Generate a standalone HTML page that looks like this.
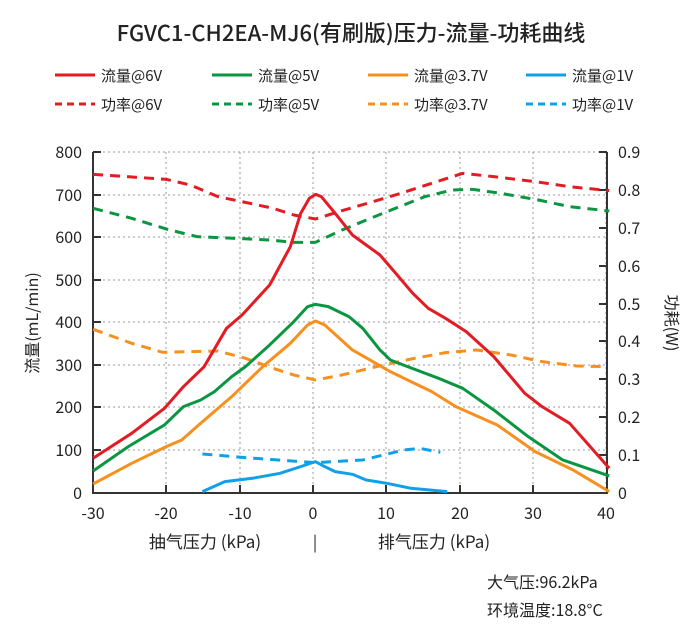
<!DOCTYPE html>
<html><head><meta charset="utf-8"><style>
body{margin:0;background:#fff}
svg{display:block;font-family:"Noto Sans CJK SC","Liberation Sans",sans-serif}
</style></head><body>
<svg width="700" height="637" viewBox="0 0 700 637">
<text x="351" y="41" font-size="22" text-anchor="middle" fill="#222" font-weight="500">FGVC1-CH2EA-MJ6(有刷版)压力-流量-功耗曲线</text>
<g font-size="15" fill="#222" stroke-width="3">
<line x1="55" y1="75" x2="95" y2="75" stroke="#e31b23"/><text x="101" y="81">流量@6V</text>
<line x1="212" y1="75" x2="252" y2="75" stroke="#0a9640"/><text x="258" y="81">流量@5V</text>
<line x1="368" y1="75" x2="408" y2="75" stroke="#f7901e"/><text x="414" y="81">流量@3.7V</text>
<line x1="526" y1="75" x2="566" y2="75" stroke="#10a0e8"/><text x="572" y="81">流量@1V</text>
<line x1="55" y1="104" x2="95" y2="104" stroke="#e31b23" stroke-dasharray="7,5"/><text x="101" y="110">功率@6V</text>
<line x1="212" y1="104" x2="252" y2="104" stroke="#0a9640" stroke-dasharray="7,5"/><text x="258" y="110">功率@5V</text>
<line x1="368" y1="104" x2="408" y2="104" stroke="#f7901e" stroke-dasharray="7,5"/><text x="414" y="110">功率@3.7V</text>
<line x1="526" y1="104" x2="566" y2="104" stroke="#10a0e8" stroke-dasharray="7,5"/><text x="572" y="110">功率@1V</text>
</g>
<g stroke="#999" stroke-width="1" stroke-dasharray="2,3">
<line x1="93" y1="152" x2="606" y2="152"/><line x1="93" y1="195" x2="606" y2="195"/><line x1="93" y1="237" x2="606" y2="237"/><line x1="93" y1="280" x2="606" y2="280"/><line x1="93" y1="322" x2="606" y2="322"/><line x1="93" y1="365" x2="606" y2="365"/><line x1="93" y1="407" x2="606" y2="407"/><line x1="93" y1="450" x2="606" y2="450"/>
<line x1="166" y1="152" x2="166" y2="493"/><line x1="240" y1="152" x2="240" y2="493"/><line x1="313" y1="152" x2="313" y2="493"/><line x1="386" y1="152" x2="386" y2="493"/><line x1="460" y1="152" x2="460" y2="493"/><line x1="533" y1="152" x2="533" y2="493"/><line x1="606" y1="152" x2="606" y2="493"/>
</g>
<g stroke="#333" stroke-width="2" fill="none">
<path d="M93 152V493H607V152"/>
<path d="M93 152h8M93 195h8M93 237h8M93 280h8M93 322h8M93 365h8M93 407h8M93 450h8"/>
<path d="M607 152h-8M607 190h-8M607 228h-8M607 266h-8M607 304h-8M607 341h-8M607 379h-8M607 417h-8M607 455h-8"/>
<path d="M166 493v-8M240 493v-8M313 493v-8M386 493v-8M460 493v-8M533 493v-8"/>
</g>
<g font-size="16" fill="#222" text-anchor="end">
<text x="82" y="158">800</text><text x="82" y="201">700</text><text x="82" y="243">600</text><text x="82" y="286">500</text><text x="82" y="328">400</text><text x="82" y="371">300</text><text x="82" y="413">200</text><text x="82" y="456">100</text><text x="82" y="499">0</text>
</g>
<g font-size="16" fill="#222">
<text x="618" y="158">0.9</text><text x="618" y="196">0.8</text><text x="618" y="234">0.7</text><text x="618" y="272">0.6</text><text x="618" y="310">0.5</text><text x="618" y="347">0.4</text><text x="618" y="385">0.3</text><text x="618" y="423">0.2</text><text x="618" y="461">0.1</text><text x="618" y="499">0</text>
</g>
<g font-size="16" fill="#222" text-anchor="middle">
<text x="93" y="519">-30</text><text x="166" y="519">-20</text><text x="240" y="519">-10</text><text x="313" y="519">0</text><text x="386" y="519">10</text><text x="460" y="519">20</text><text x="533" y="519">30</text><text x="606" y="519">40</text>
<text x="205" y="548" font-size="17">抽气压力 (kPa)</text><text x="315" y="548">|</text><text x="434" y="548" font-size="17">排气压力 (kPa)</text>
</g>
<text transform="translate(38 323) rotate(-90)" font-size="16" fill="#222" text-anchor="middle">流量(mL/min)</text>
<text transform="translate(666 323) rotate(90)" font-size="16" fill="#222" text-anchor="middle">功耗(W)</text>
<text x="487" y="588" font-size="16" fill="#222">大气压:96.2kPa</text>
<text x="487" y="616" font-size="16" fill="#222">环境温度:18.8°C</text>
<g transform="translate(80 140) scale(0.3448 0.3333)" fill="none" stroke-width="3" stroke-linejoin="round">
<path vector-effect="non-scaling-stroke" stroke="#e31b23" stroke-dasharray="10,7" d="M38 103L250 118 320 135 400 170 470 185 560 205 620 225 683 237 750 215 850 185 930 160 1020 130 1110 100 1200 110 1320 125 1420 140 1535 152"/>
<path vector-effect="non-scaling-stroke" stroke="#0a9640" stroke-dasharray="10,7" d="M38 205L150 235 260 270 340 290 450 295 550 300 620 307 683 307 760 270 890 215 1000 170 1080 150 1140 148 1220 160 1330 180 1420 200 1535 213"/>
<path vector-effect="non-scaling-stroke" stroke="#f7901e" stroke-dasharray="10,7" d="M38 568L150 610 240 637 400 633 480 655 560 685 620 705 683 720 760 705 860 680 960 657 1060 638 1150 630 1250 645 1340 665 1440 678 1520 680"/>
<path vector-effect="non-scaling-stroke" stroke="#10a0e8" stroke-dasharray="10,7" d="M355 942L480 953 600 962 683 968 820 960 880 945 940 930 985 925 1045 937"/>
<path vector-effect="non-scaling-stroke" stroke="#e31b23" d="M38 955L150 880 245 805 300 740 360 680 425 565 470 525 550 435 610 320 640 220 665 175 683 163 700 170 740 220 790 285 830 315 870 345 920 405 965 460 1010 505 1060 535 1120 575 1200 650 1290 760 1340 800 1420 850 1535 985"/>
<path vector-effect="non-scaling-stroke" stroke="#0a9640" d="M38 993L140 920 245 855 300 800 350 780 390 755 440 710 480 680 550 615 620 545 660 500 683 493 720 500 780 530 820 565 870 630 900 660 950 680 1040 715 1110 745 1200 810 1300 890 1400 960 1535 1008"/>
<path vector-effect="non-scaling-stroke" stroke="#f7901e" d="M38 1032L150 970 250 920 295 900 350 850 440 770 530 680 610 610 660 555 683 543 710 555 790 630 900 695 960 725 1020 755 1090 800 1210 855 1320 935 1430 990 1535 1055"/>
<path vector-effect="non-scaling-stroke" stroke="#10a0e8" d="M355 1055L420 1025 500 1015 580 1000 640 980 683 965 710 980 740 995 790 1003 830 1020 890 1030 960 1045 1065 1055"/>
</g>
</svg>
</body></html>
